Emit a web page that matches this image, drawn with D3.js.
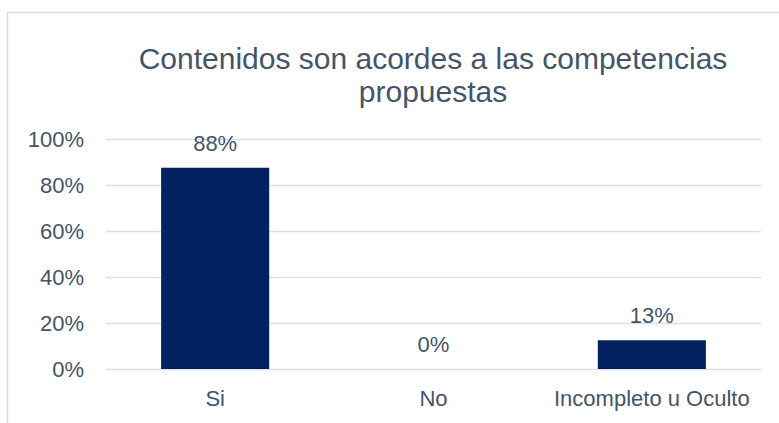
<!DOCTYPE html>
<html>
<head>
<meta charset="utf-8">
<script src="https://cdn.jsdelivr.net/npm/d3@7"></script>
<style>
  html, body { margin: 0; padding: 0; background: #ffffff; }
  svg { display: block; }
</style>
</head>
<body>
<svg id="chart" width="779" height="423"></svg>
<script>
const categories = ["Si", "No", "Incompleto u Oculto"];
const values = [0.875, 0, 0.125];
const valueLabels = ["88%", "0%", "13%"];
const yTicks = [0, 0.2, 0.4, 0.6, 0.8, 1.0];
const titleLines = ["Contenidos son acordes a las competencias", "propuestas"];

const W = 779, H = 423;
const textColor = "#44546A";
const barColor = "#03215E";
const gridColor = "#DCE0E6";
const fontFamily = "'Liberation Sans', Arial, sans-serif";

const svg = d3.select("#chart");

// outer chart border
svg.append("rect")
  .attr("x", 7.5).attr("y", 12.5)
  .attr("width", W + 20).attr("height", H + 20)
  .attr("fill", "#ffffff")
  .attr("stroke", "#D9DDE3").attr("stroke-width", 1.5);

const plot = { left: 106, right: 761, top: 139, bottom: 369 };

const x = d3.scaleBand()
  .domain(categories)
  .range([plot.left, plot.right])
  .paddingInner(0.505)
  .paddingOuter(0.2525);

const y = d3.scaleLinear()
  .domain([0, 1])
  .range([plot.bottom, plot.top]);

// gridlines
svg.append("g")
  .selectAll("line")
  .data(yTicks)
  .join("line")
  .attr("x1", plot.left).attr("x2", plot.right)
  .attr("y1", d => Math.round(y(d)) + 0.5)
  .attr("y2", d => Math.round(y(d)) + 0.5)
  .attr("stroke", gridColor).attr("stroke-width", 1.5);

// y axis
const yAxis = d3.axisLeft(y)
  .tickValues(yTicks)
  .tickFormat(d3.format(".0%"))
  .tickSize(0)
  .tickPadding(0);
const yg = svg.append("g")
  .attr("transform", `translate(${plot.left - 22},0)`)
  .call(yAxis);
yg.select(".domain").remove();
yg.selectAll("text")
  .attr("fill", textColor)
  .style("font-family", fontFamily)
  .style("font-size", "22px");

// x axis
const xAxis = d3.axisBottom(x).tickSize(0).tickPadding(0);
const xg = svg.append("g")
  .attr("transform", `translate(0,${plot.bottom + 21})`)
  .call(xAxis);
xg.select(".domain").remove();
xg.selectAll("text")
  .attr("fill", textColor)
  .attr("dy", "0.71em")
  .attr("y", 0)
  .style("font-family", fontFamily)
  .style("font-size", "22px");

// bars
svg.append("g")
  .selectAll("rect")
  .data(categories)
  .join("rect")
  .attr("x", d => x(d))
  .attr("width", x.bandwidth())
  .attr("y", (d, i) => y(values[i]))
  .attr("height", (d, i) => y(0) - y(values[i]))
  .attr("fill", barColor);

// value labels
svg.append("g")
  .selectAll("text")
  .data(categories)
  .join("text")
  .attr("x", d => x(d) + x.bandwidth() / 2)
  .attr("y", (d, i) => y(values[i]) - 17)
  .attr("text-anchor", "middle")
  .attr("fill", textColor)
  .style("font-family", fontFamily)
  .style("font-size", "22px")
  .text((d, i) => valueLabels[i]);

// title
const title = svg.append("text")
  .attr("text-anchor", "middle")
  .attr("fill", textColor)
  .style("font-family", fontFamily)
  .style("font-size", "30px");
title.selectAll("tspan")
  .data(titleLines)
  .join("tspan")
  .attr("x", 433)
  .attr("y", (d, i) => 69 + i * 33)
  .text(d => d);
</script>
</body>
</html>
